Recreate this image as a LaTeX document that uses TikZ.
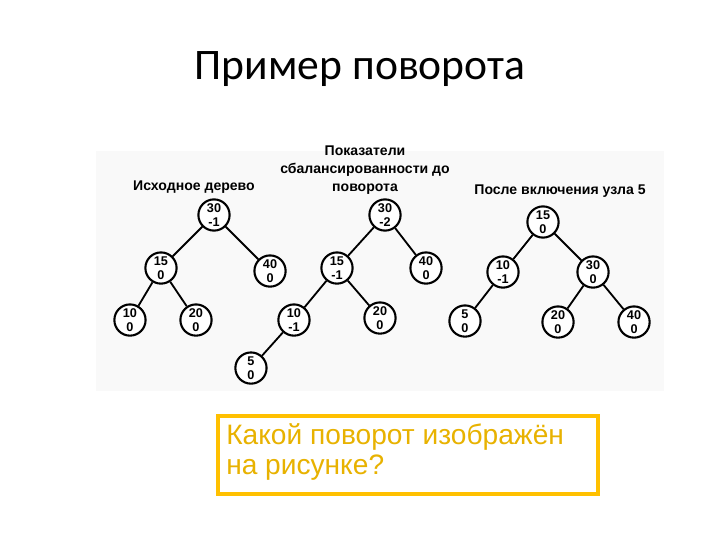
\documentclass[tikz,border=0pt]{standalone}
\usepackage{fontspec}
\setmainfont{Liberation Sans}
\newfontfamily\titlefont{Carlito}
\usetikzlibrary{positioning}

\definecolor{boxgold}{RGB}{255,192,0}
\definecolor{textgold}{RGB}{232,178,0}
\definecolor{picbg}{RGB}{249,249,249}

\tikzset{
    avl/.style={circle, draw, line width=1.5pt, fill=white, minimum size=0.78cm,
        inner sep=0pt, align=center, font=\bfseries\fontsize{9}{10}\selectfont},
    caption/.style={align=center, font=\bfseries\fontsize{10}{12.8}\selectfont},
    edge/.style={line width=1.3pt},
}

\begin{document}
\begin{tikzpicture}[x=0.025cm, y=-0.025cm, node distance=1cm, on grid]
    \useasboundingbox (0,0) rectangle (720,540);
    \node[font=\titlefont\fontsize{31}{36}\selectfont] (title) at (360,69) {Пример поворота};
    \fill[picbg] (96,151) rectangle (664,391);

    % source tree
    \node[caption] (cap1) at (194,187) {Исходное дерево};
    \node[avl] (a30) at (214,215) {30\\-1};
    \node[avl, below left=1.325cm and 1.325cm of a30] (a15) {15\\0};
    \node[avl, below right=1.4cm and 1.4cm of a30] (a40) {40\\0};
    \node[avl, below left=1.3cm and 0.775cm of a15] (a10) {10\\0};
    \node[avl, below right=1.3cm and 0.875cm of a15] (a20) {20\\0};
    \draw[edge] (a30) -- (a15);
    \draw[edge] (a30) -- (a40);
    \draw[edge] (a15) -- (a10);
    \draw[edge] (a15) -- (a20);

    % balance factors before the rotation
    \node[caption] (cap2) at (365,170) {Показатели\\сбалансированности до\\поворота};
    \node[avl] (b30) at (385,215) {30\\-2};
    \node[avl, below left=1.325cm and 1.2cm of b30] (b15) {15\\-1};
    \node[avl, below right=1.325cm and 1.025cm of b30] (b40) {40\\0};
    \node[avl, below left=1.3cm and 1.075cm of b15] (b10) {10\\-1};
    \node[avl, below right=1.25cm and 1.075cm of b15] (b20) {20\\0};
    \node[avl, below left=1.2cm and 1.075cm of b10] (b5) {5\\0};
    \draw[edge] (b30) -- (b15);
    \draw[edge] (b30) -- (b40);
    \draw[edge] (b15) -- (b10);
    \draw[edge] (b15) -- (b20);
    \draw[edge] (b10) -- (b5);

    % after inserting 5
    \node[caption] (cap3) at (560,191) {После включения узла 5};
    \node[avl] (c15) at (543,222) {15\\0};
    \node[avl, below left=1.25cm and 1cm of c15] (c10) {10\\-1};
    \node[avl, below right=1.25cm and 1.25cm of c15] (c30) {30\\0};
    \node[avl, below left=1.225cm and 0.95cm of c10] (c5) {5\\0};
    \node[avl, below left=1.25cm and 0.875cm of c30] (c20) {20\\0};
    \node[avl, below right=1.25cm and 1.025cm of c30] (c40) {40\\0};
    \draw[edge] (c15) -- (c10);
    \draw[edge] (c15) -- (c30);
    \draw[edge] (c10) -- (c5);
    \draw[edge] (c30) -- (c20);
    \draw[edge] (c30) -- (c40);

    % question
    \node[draw=boxgold, line width=2.8pt, fill=white, minimum width=9.5cm, minimum height=1.95cm,
        anchor=north west, inner sep=0pt] (qbox) at (216,414) {};
    \node[text=textgold, align=left, anchor=north west, inner sep=0pt,
        font=\fontsize{20}{21.5}\selectfont] (question) at (226,423)
        {Какой поворот изображён\\на рисунке?};
\end{tikzpicture}
\end{document}
